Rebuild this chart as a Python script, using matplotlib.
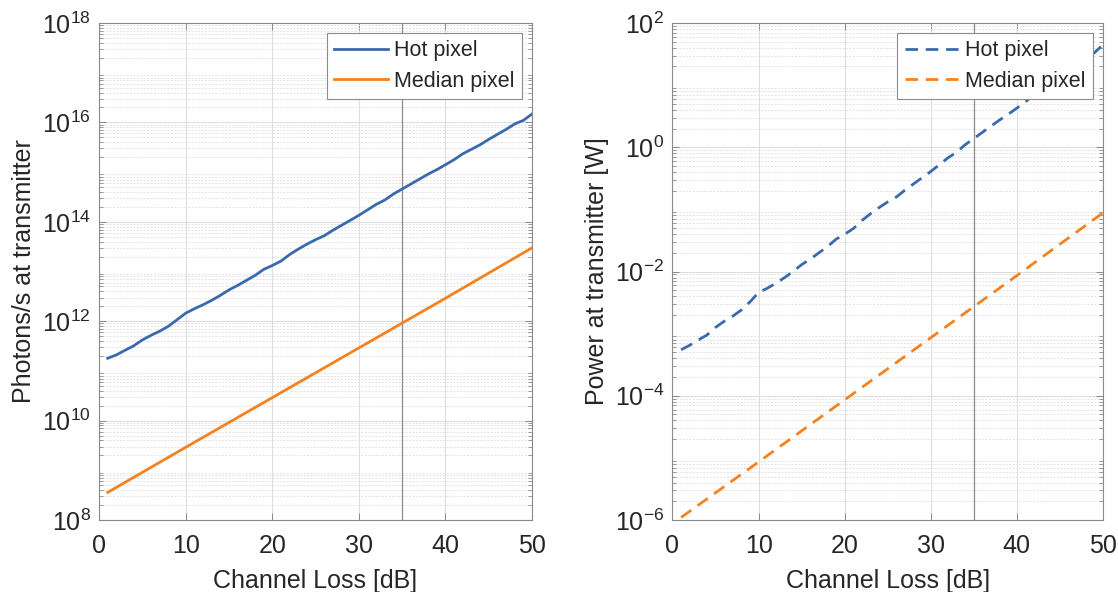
import numpy as np
import matplotlib
matplotlib.use('Agg')
import matplotlib.pyplot as plt
from matplotlib.ticker import FixedLocator, LogLocator, NullFormatter

plt.rcParams['font.family'] = ['Liberation Sans', 'DejaVu Sans']
plt.rcParams['mathtext.fontset'] = 'custom'
plt.rcParams['mathtext.rm'] = 'Liberation Sans'

# channel loss [dB]
loss = list(range(1, 51))

# photons/s at transmitter, hot pixel
hot_photons = [1.8e11, 2.1e11, 2.6e11, 3.2e11, 4.2e11, 5.2e11, 6.3e11, 7.9e11, 1.07e12, 1.45e12,
               1.78e12, 2.14e12, 2.63e12, 3.31e12, 4.27e12, 5.25e12, 6.61e12, 8.32e12, 1.10e13, 1.32e13,
               1.62e13, 2.19e13, 2.82e13, 3.55e13, 4.37e13, 5.25e13, 6.76e13, 8.51e13, 1.07e14, 1.35e14,
               1.74e14, 2.24e14, 2.75e14, 3.63e14, 4.57e14, 5.75e14, 7.24e14, 9.12e14, 1.12e15, 1.41e15,
               1.78e15, 2.34e15, 2.88e15, 3.55e15, 4.57e15, 5.75e15, 7.24e15, 9.33e15, 1.10e16, 1.48e16]

# power at transmitter [W], hot pixel
hot_power = [5.5e-4, 6.5e-4, 7.9e-4, 9.5e-4, 1.26e-3, 1.58e-3, 1.91e-3, 2.40e-3, 3.24e-3, 4.6e-3,
             5.37e-3, 6.46e-3, 7.94e-3, 1.0e-2, 1.29e-2, 1.58e-2, 2.0e-2, 2.51e-2, 3.31e-2, 3.98e-2,
             4.90e-2, 6.61e-2, 8.51e-2, 0.107, 0.132, 0.158, 0.204, 0.257, 0.324, 0.407,
             0.525, 0.676, 0.832, 1.10, 1.38, 1.74, 2.19, 2.75, 3.39, 4.27,
             5.37, 7.08, 8.71, 10.7, 13.8, 17.4, 21.9, 28.2, 33.1, 44.7]

# median pixel (straight on log axis)
med_loss = [1, 10, 20, 30, 40, 50]
med_photons = [3.6e8, 2.9e9, 2.9e10, 2.9e11, 2.9e12, 3.0e13]
med_power = [1.1e-6, 8.6e-6, 8.6e-5, 8.6e-4, 8.6e-3, 8.8e-2]

left_ticks = [1e8, 1e10, 1e12, 1e14, 1e16, 1e18]
right_ticks = [1e-6, 1e-4, 1e-2, 1e0, 1e2]

blue = '#3a6aae'
orange = '#f5821f'
spine_col = '#8a8a8a'
txt_col = '#262626'

fig = plt.figure(figsize=(11.18, 5.92), dpi=100)
ax1 = fig.add_axes([0.0886, 0.1216, 0.3873, 0.8395])
ax2 = fig.add_axes([0.6015, 0.1216, 0.3850, 0.8395])


def style(ax, yticks):
    ax.set_yscale('log')
    ax.set_xlim(0, 50)
    ax.set_ylim(yticks[0], yticks[-1])
    ax.set_xticks([0, 10, 20, 30, 40, 50])
    ax.yaxis.set_major_locator(FixedLocator(yticks))
    ax.set_yticklabels([r'$\mathregular{10^{%d}}$' % int(round(np.log10(t))) for t in yticks])
    ax.yaxis.set_minor_locator(LogLocator(base=10, subs=np.arange(2, 10), numticks=100))
    ax.yaxis.set_minor_formatter(NullFormatter())
    ax.tick_params(which='both', direction='in', top=True, right=True,
                   color=spine_col, labelsize=18, labelcolor=txt_col)
    ax.tick_params(which='major', length=5, width=0.7)
    ax.tick_params(which='minor', length=3, width=0.6)
    ax.tick_params(axis='x', pad=10)
    ax.tick_params(axis='y', pad=6)
    ax.grid(True, which='major', color='#dedede', lw=0.8)
    ax.grid(True, which='minor', axis='y', color='#e3e3e3', lw=0.7, ls=(0, (2, 1.5)))
    ax.set_axisbelow(True)
    for s in ax.spines.values():
        s.set_color(spine_col)
        s.set_linewidth(0.8)
    ax.axvline(35, color='#8c8c8c', lw=0.9, zorder=1.5)
    ax.set_xlabel('Channel Loss [dB]', fontsize=18, color=txt_col, labelpad=8)


ax1.plot(loss, hot_photons, color=blue, lw=2, label='Hot pixel')
ax1.plot(med_loss, med_photons, color=orange, lw=2, label='Median pixel')
style(ax1, left_ticks)
ax1.set_ylabel('Photons/s at transmitter', fontsize=18, color=txt_col)

ax2.plot(loss, hot_power, color=blue, lw=2, ls=(0, (4.5, 2.8)), label='Hot pixel')
ax2.plot(med_loss, med_power, color=orange, lw=2, ls=(0, (4.5, 2.8)), label='Median pixel')
style(ax2, right_ticks)
ax2.set_ylabel('Power at transmitter [W]', fontsize=18, color=txt_col)

for ax in (ax1, ax2):
    leg = ax.legend(loc='upper right', fontsize=15.5, fancybox=False, framealpha=1,
                    borderaxespad=0.45, handlelength=2.5, borderpad=0.35, labelspacing=0.45,
                    handletextpad=0.3)
    leg.get_frame().set_edgecolor('#8c8c8c')
    leg.get_frame().set_linewidth(0.8)
    for t in leg.get_texts():
        t.set_color(txt_col)

fig.savefig('out.png', dpi=100)
